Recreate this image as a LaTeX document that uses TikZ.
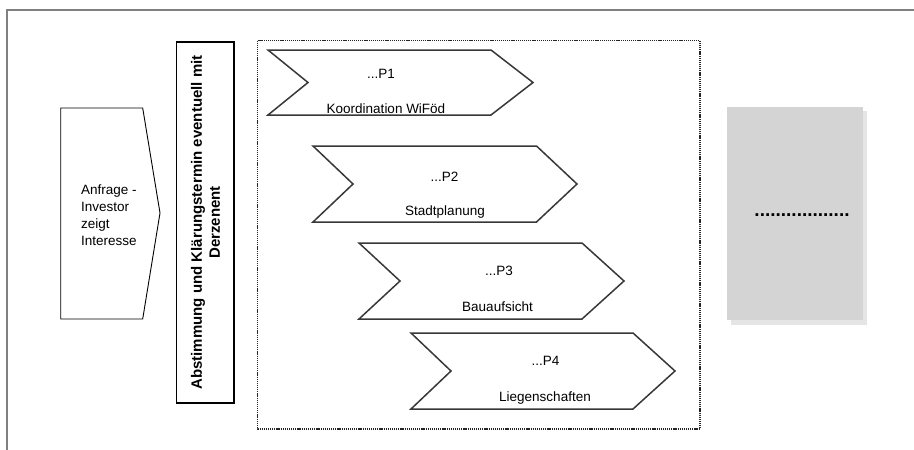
\documentclass[tikz,border=0pt]{standalone}
\usepackage{fontspec}
\setmainfont{Liberation Sans}
\begin{document}
\begin{tikzpicture}[x=1pt,y=-1pt,
  chevron/.style={draw=black!78,line width=1.5pt,fill=white,line join=miter},
  lbl/.style={inner sep=0pt,font=\fontsize{13.5}{17}\selectfont},
  frameline/.style={draw=black!50,line width=1.6pt}]
\useasboundingbox (0,0) rectangle (914,450);
% outer frame
\draw[frameline] (6.7,450) -- (6.7,10) -- (914,10);
% Anfrage pentagon
\draw[line width=0.9pt] (60.7,108) -- (142.7,108) -- (160,213) -- (142.7,319) -- (60.7,319) -- cycle;
\node[lbl,anchor=west,align=left] (anfrage) at (81,215) {Anfrage -\\Investor\\zeigt\\Interesse};
% vertical box
\draw[line width=1.8pt] (176.5,42) rectangle (234,403);
\node[inner sep=0pt,rotate=90,align=center,font=\fontsize{15}{18}\bfseries\selectfont] (abst) at (205.5,222.5)
  {Abstimmung und Klärungstermin eventuell mit\\Derzenent};
% dotted container
\draw[draw=black!85,line width=1.8pt,dash pattern=on 1.2pt off 0.9pt] (257.5,40.5) rectangle (700,429);
% chevrons
\draw[chevron] (268,50) -- (491,50) -- (533,82.5) -- (491,115) -- (268,115) -- (308,82.5) -- cycle;
\draw[chevron] (313,146) -- (536.5,146) -- (577,184) -- (536.5,222) -- (313,222) -- (353,184) -- cycle;
\draw[chevron] (359,243) -- (582,243) -- (624,281) -- (582,319) -- (359,319) -- (400,281) -- cycle;
\draw[chevron] (411,333) -- (633,333) -- (675,371) -- (633,409) -- (411,409) -- (451,371) -- cycle;
% chevron texts
\node[lbl] (p1) at (381,74) {...P1};
\node[lbl] (p1b) at (386,109) {Koordination WiFöd};
\node[lbl] (p2) at (444.5,177) {...P2};
\node[lbl] (p2b) at (445,212) {Stadtplanung};
\node[lbl] (p3) at (499,271) {...P3};
\node[lbl] (p3b) at (497.5,307) {Bauaufsicht};
\node[lbl] (p4) at (545.5,361) {...P4};
\node[lbl] (p4b) at (545,398) {Liegenschaften};
% gray box with shadow
\fill[black!10] (731,111) rectangle (867,325);
\fill[black!17] (727,107) rectangle (863,320);
\node[inner sep=0pt,font=\fontsize{19}{20}\bfseries\selectfont] (dots) at (802,215) {..................};
\end{tikzpicture}
\end{document}
